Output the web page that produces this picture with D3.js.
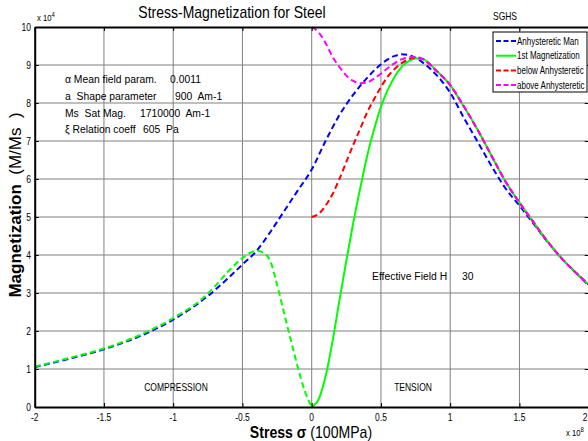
<!DOCTYPE html>
<html>
<head>
<meta charset="utf-8">
<script src="https://cdn.jsdelivr.net/npm/d3@7"></script>
<style>
  html,body{margin:0;padding:0;background:#fff;}
  svg text{font-family:"Liberation Sans",Arial,Helvetica,sans-serif;white-space:pre;}
</style>
</head>
<body>
<svg id="chart" width="588" height="441"></svg>
<script>
// ---------- data ----------
const xTicks = [-2,-1.5,-1,-0.5,0,0.5,1,1.5,2];
const xTickLabels = ["-2","-1.5","-1","-0.5","0","0.5","1","1.5","2"];
const yTicks = [0,1,2,3,4,5,6,7,8,9,10];
const yTickLabels = ["0","1","2","3","4","5","6","7","8","9","10"];

// Anhysteretic magnetization (x 1e4) vs stress (x 1e8)
const stressAnh = [-2,-1.75,-1.5,-1.25,-1,-0.75,-0.5,-0.4,-0.3,-0.2,-0.1,0,0.1,0.2,0.3,0.4,0.5,0.6,0.65,0.7,0.8,0.9,1.0,1.1,1.2,1.3,1.4,1.5,1.6,1.7,1.8,1.9,2.0];
const magAnh    = [1.05,1.27,1.52,1.85,2.3,2.92,3.75,4.1,4.6,5.15,5.7,6.25,7.0,7.68,8.22,8.66,9.02,9.24,9.28,9.26,9.07,8.74,8.27,7.6,6.97,6.33,5.75,5.3,4.83,4.36,3.93,3.56,3.2];

// 1st magnetization, compression branch (dashed green)
const stressComp = [-2,-1.75,-1.5,-1.25,-1,-0.8,-0.7,-0.6,-0.5,-0.45,-0.4,-0.35,-0.3,-0.25,-0.2,-0.15,-0.1,-0.05,0];
const magComp    = [1.06,1.29,1.54,1.88,2.34,2.82,3.17,3.58,3.92,4.05,4.11,4.06,3.85,3.22,2.48,1.75,1.04,0.42,0];

// Tension branches
const stressTen = [0,0.05,0.1,0.15,0.2,0.25,0.3,0.35,0.4,0.45,0.5,0.55,0.6,0.65,0.7,0.75,0.8,0.9,1.0,1.1,1.2,1.3,1.4,1.5,1.6,1.7,1.8,1.9,2.0];
const magFirst = [0,0.2,0.8,1.72,2.8,3.85,4.85,5.75,6.6,7.3,7.9,8.35,8.7,8.95,9.1,9.17,9.16,8.85,8.47,7.9,7.28,6.6,5.93,5.38,4.87,4.37,3.93,3.56,3.22];
const magBelow = [5.0,5.08,5.3,5.6,6.0,6.45,6.9,7.32,7.75,8.1,8.42,8.7,8.9,9.05,9.15,9.2,9.16,8.85,8.47,7.9,7.28,6.6,5.93,5.38,4.87,4.37,3.93,3.56,3.22];
const magAbove = [10,9.86,9.58,9.22,8.95,8.72,8.58,8.52,8.54,8.64,8.77,8.92,9.05,9.15,9.2,9.21,9.16,8.85,8.47,7.9,7.28,6.6,5.93,5.38,4.87,4.37,3.93,3.56,3.22];

const legendLabels = ["Anhysteretic Man","1st Magnetization","below Anhysteretic","above Anhysteretic"];
const paramNames  = ["\u03b1 Mean field param.","a  Shape parameter","Ms  Sat Mag.","\u03be Relation coeff"];
const paramValues = ["0.0011","900  Am-1","1710000  Am-1","605  Pa"];

// ---------- drawing ----------
const svg = d3.select("#chart");
const L = 34.7, R = 588.7, T = 27, B = 407;
const x = d3.scaleLinear().domain([-2,2]).range([L,R]);
const y = d3.scaleLinear().domain([0,10]).range([B,T]);

svg.append("rect").attr("width",588).attr("height",441).attr("fill","#fff");

function txt(parent, px, py, str, size, opts={}){
  const t = parent.append("text")
    .attr("transform",`translate(${px},${py}) ${opts.rot?`rotate(${opts.rot})`:""} scale(${opts.sx||1},1)`)
    .attr("font-size",size).attr("fill","#000")
    .attr("text-anchor",opts.anchor||"start");
  if(opts.weight) t.attr("font-weight",opts.weight);
  if(str!==null) t.text(str);
  return t;
}

// grid
const g = svg.append("g");
g.selectAll(".hg").data(yTicks.slice(1,-1)).enter().append("line")
  .attr("x1",L).attr("x2",R).attr("y1",d=>y(d)).attr("y2",d=>y(d))
  .attr("stroke","#aaa").attr("stroke-width",1.5);
g.selectAll(".vg").data(xTicks.slice(1,-1)).enter().append("line")
  .attr("y1",T).attr("y2",B).attr("x1",d=>x(d)).attr("x2",d=>x(d))
  .attr("stroke","#808080").attr("stroke-width",1);

// clip for curves
svg.append("clipPath").attr("id","clip").append("rect").attr("x",L).attr("y",T-2).attr("width",R-L).attr("height",B-T+4);

const line = d3.line().x(d=>x(d[0])).y(d=>y(d[1])).curve(d3.curveMonotoneX);
const curves = svg.append("g").attr("clip-path","url(#clip)");
function draw(xs, ys, color, dashed){
  curves.append("path").datum(xs.map((v,i)=>[v,ys[i]]))
    .attr("d",line).attr("fill","none").attr("stroke",color).attr("stroke-width",2)
    .attr("stroke-dasharray",dashed?"6,3.5":null);
}
draw(stressAnh, magAnh, "#0000ff", true);
draw(stressComp, magComp, "#00ff00", true);
draw(stressTen, magFirst, "#00ff00", false);
draw(stressTen, magBelow, "#ff0000", true);
draw(stressTen, magAbove, "#ff00ff", true);

// axes with inward ticks
const xAxisB = d3.axisBottom(x).tickValues(xTicks).tickFormat("").tickSizeInner(-4).tickSizeOuter(0);
const xAxisT = d3.axisTop(x).tickValues(xTicks).tickFormat("").tickSizeInner(-4).tickSizeOuter(0);
const yAxisL = d3.axisLeft(y).tickValues(yTicks).tickFormat("").tickSizeInner(-4).tickSizeOuter(0);
const yAxisR = d3.axisRight(y).tickValues(yTicks).tickFormat("").tickSizeInner(-4).tickSizeOuter(0);
function styleAxis(sel){
  sel.select(".domain").attr("stroke","#000").attr("stroke-width",2);
  sel.selectAll(".tick line").attr("stroke","#000").attr("stroke-width",1);
}
svg.append("g").attr("transform",`translate(0,${B})`).call(xAxisB).call(styleAxis);
svg.append("g").attr("transform",`translate(0,${T})`).call(xAxisT).call(styleAxis);
svg.append("g").attr("transform",`translate(${L},0)`).call(yAxisL).call(styleAxis);
svg.append("g").attr("transform",`translate(${R},0)`).call(yAxisR).call(styleAxis);

// tick labels
const tl = svg.append("g");
xTicks.forEach((v,i)=>txt(tl, Math.min(x(v),585), 421, xTickLabels[i], 10, {anchor:"middle", sx:0.85}));
yTicks.forEach((v,i)=>txt(tl, 31, y(v)+3.5, yTickLabels[i], 10, {anchor:"end", sx:0.85}));

// exponent labels
const e1 = txt(svg, 37, 21, null, 9, {sx:0.85});
e1.append("tspan").text("x 10");
e1.append("tspan").attr("dy",-4).attr("font-size",7).text("4");
const e2 = txt(svg, 566, 436, null, 9, {sx:0.85});
e2.append("tspan").text("x 10");
e2.append("tspan").attr("dy",-4).attr("font-size",7).text("8");

// title and misc text
txt(svg, 232, 18, "Stress-Magnetization for Steel", 16, {anchor:"middle", sx:0.875});
txt(svg, 505, 20, "SGHS", 10, {anchor:"middle", sx:0.85});

const xl = txt(svg, 311, 438, null, 16, {anchor:"middle", sx:0.88});
xl.append("tspan").attr("font-weight","bold").text("Stress \u03c3");
xl.append("tspan").text(" (100MPa)");

const yl = txt(svg, 21, 205, null, 17, {anchor:"middle", rot:-90});
yl.append("tspan").attr("font-weight","bold").text("Magnetization");
yl.append("tspan").text("  (M/Ms  )");

const pxName = [65,65,65,65], pxVal = [170,175,140,143];
paramNames.forEach((s,i)=>{
  txt(svg, pxName[i], 83+i*16.8, s, 11.5, {sx:0.9});
  txt(svg, pxVal[i], 83+i*16.8, paramValues[i], 11.5, {sx:0.9});
});

txt(svg, 372, 280, "Effective Field H", 11.5, {sx:0.9});
txt(svg, 462, 280, "30", 11.5, {sx:0.9});
txt(svg, 176, 391, "COMPRESSION", 10, {anchor:"middle", sx:0.85});
txt(svg, 413, 391, "TENSION", 10, {anchor:"middle", sx:0.85});

// legend
const lg = svg.append("g");
lg.append("rect").attr("x",493).attr("y",32).attr("width",94).attr("height",60).attr("fill","#fff").attr("stroke","#000").attr("stroke-width",1);
const lColors = ["#0000ff","#00ff00","#ff0000","#ff00ff"];
const lDash = [true,false,true,true];
lg.selectAll(".li").data(legendLabels).enter().append("line")
  .attr("x1",496).attr("x2",516).attr("y1",(d,i)=>41+i*14.7).attr("y2",(d,i)=>41+i*14.7)
  .attr("stroke",(d,i)=>lColors[i]).attr("stroke-width",2).attr("stroke-dasharray",(d,i)=>lDash[i]?"5,2.5":null);
legendLabels.forEach((s,i)=>txt(lg, 517, 44.5+i*14.7, s, 10, {sx:0.8}));
</script>
</body>
</html>
